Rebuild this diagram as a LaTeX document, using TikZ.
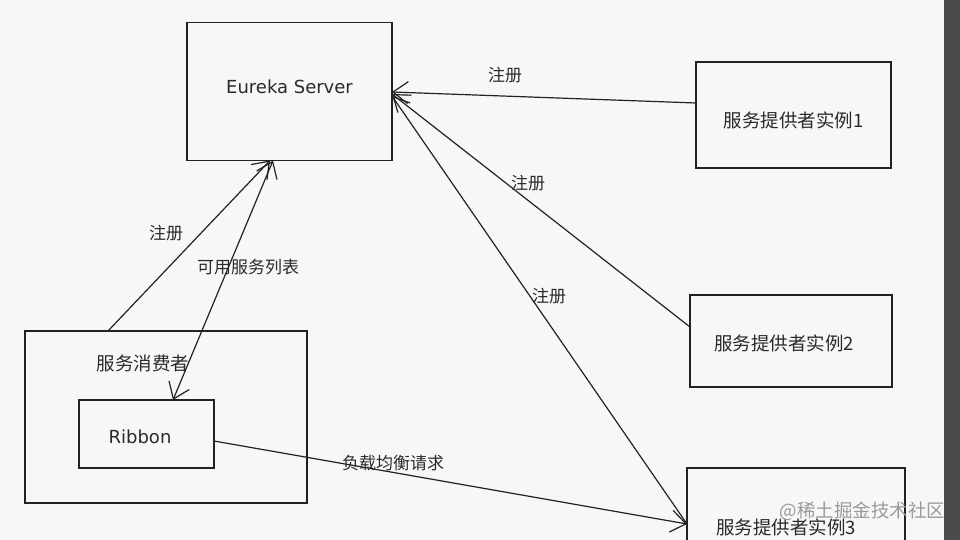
\documentclass[tikz,border=0pt]{standalone}
\usepackage{fontspec}
\newfontfamily\cjk{Noto Sans CJK SC}
\newfontfamily\lat{DejaVu Sans}
\usetikzlibrary{arrows.meta,calc}
\definecolor{bg}{HTML}{F7F7F7}
\definecolor{ink}{HTML}{222222}
\definecolor{txt}{HTML}{2A2A2A}
\definecolor{bar}{HTML}{4A4A4A}
\definecolor{wm}{HTML}{9A9A9A}
\tikzset{
  box/.style={draw=ink, line width=1.3pt, fill=bg, inner sep=0pt, outer sep=0pt},
  boxtext/.style={text=txt, font=\cjk\fontsize{18.5}{20}\selectfont, inner sep=0pt},
  lattext/.style={text=txt, font=\lat\fontsize{18}{20}\selectfont, inner sep=0pt},
  lbl/.style={text=txt, font=\cjk\fontsize{17}{19}\selectfont, inner sep=0pt},
  conn/.style={draw=ink, line width=1.2pt, -{Straight Barb[length=15pt,width=22pt,line width=1.2pt]}},
  dconn/.style={draw=ink, line width=1.2pt, {Straight Barb[length=15pt,width=22pt,line width=1.2pt]}-{Straight Barb[length=15pt,width=22pt,line width=1.2pt]}}
}
\begin{document}
\begin{tikzpicture}[x=1pt,y=-1pt]
\clip (0,0) rectangle (960,540);
\fill[bg] (0,0) rectangle (960,540);
\fill[bar] (944,0) rectangle (960,540);

% boxes
\node[box, minimum width=205pt, minimum height=138pt] (eureka) at (289.5,91.5) {};
\node[box, minimum width=195pt, minimum height=106pt] (p1) at (793.5,115) {};
\node[box, minimum width=202pt, minimum height=92pt] (p2) at (791,341) {};
\node[box, minimum width=218pt, minimum height=118pt] (p3) at (796,527) {};
\node[box, minimum width=282pt, minimum height=172pt] (consumer) at (166,417) {};
\node[box, minimum width=135pt, minimum height=68pt] (ribbon) at (146.5,434) {};

% box texts
\node[lattext] (eurekaT) at (289.5,87) {Eureka Server};
\node[boxtext] (p1T) at (793.5,120) {服务提供者实例1};
\node[boxtext] (p2T) at (784,343) {服务提供者实例2};
\node[boxtext] (p3T) at (786,527) {服务提供者实例3};
\node[boxtext] (consumerT) at (143,363) {服务消费者};
\node[lattext] (ribbonT) at (140,437) {Ribbon};

% connectors
\draw[conn] ($(p1.west)+(0,-12)$) -- ($(eureka.east)+(0,0.5)$);
\draw[conn] ($(p2.west)+(0,-14)$) -- ($(eureka.east)+(0,2.5)$);
\draw[conn] ($(p3.west)+(0,-3)$) -- ($(eureka.east)+(0,4.5)$);
\draw[conn] ($(consumer.north)+(-58,0)$) -- ($(eureka.south)+(-19.5,0)$);
\draw[dconn] ($(eureka.south)+(-16.5,0)$) -- ($(ribbon.north)+(26.5,0)$);
\draw[conn] ($(ribbon.east)+(0,7)$) -- ($(p3.west)+(0,-3)$);

% labels
\node[lbl] (l1) at (505,75) {注册};
\node[lbl] (l2) at (528,183) {注册};
\node[lbl] (l3) at (549,296) {注册};
\node[lbl] (l4) at (166,233) {注册};
\node[lbl] (l5) at (248,267) {可用服务列表};
\node[lbl] (l6) at (393,463) {负载均衡请求};

% watermark
\node[text=wm, font=\cjk\fontsize{18.5}{20}\selectfont, inner sep=0pt] (wmark) at (862.5,511.5) {@稀土掘金技术社区};
\end{tikzpicture}
\end{document}
